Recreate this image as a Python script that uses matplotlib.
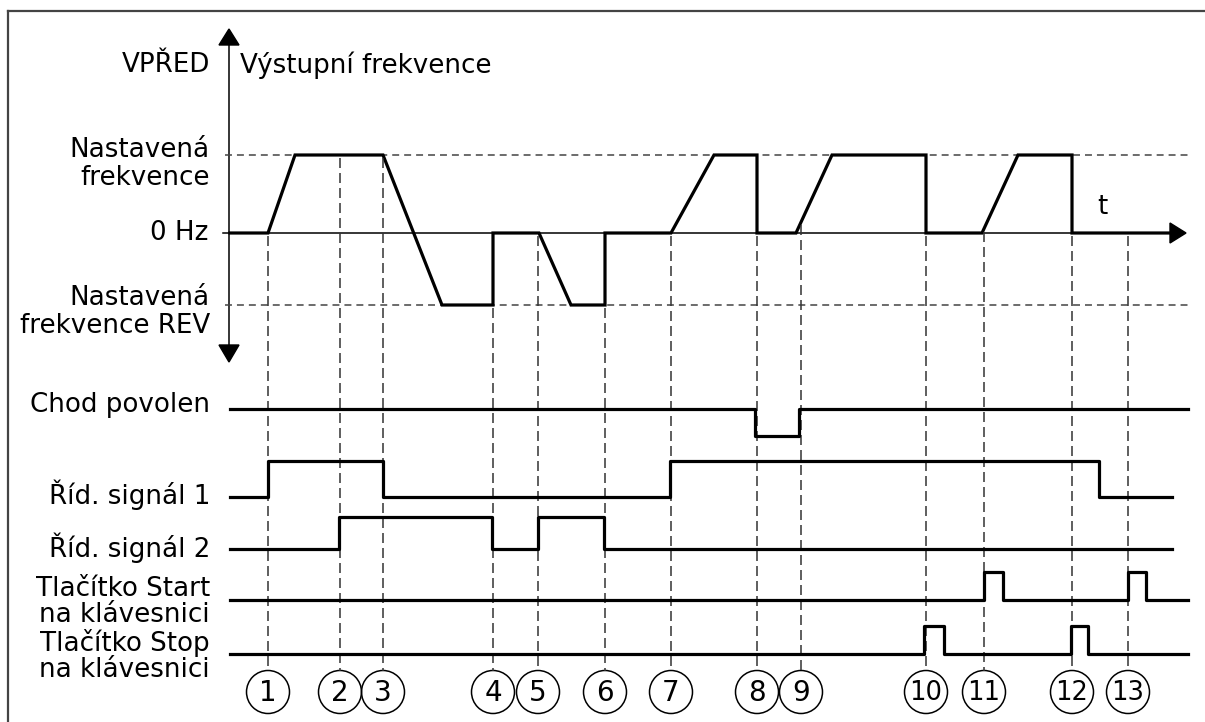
import matplotlib.pyplot as plt
import numpy as np
from matplotlib.patches import Circle, Polygon

plt.rcParams['font.family'] = 'DejaVu Sans'
plt.rcParams['lines.scale_dashes'] = False

# numbered event instants (time axis in drawing units)
events = [268, 340, 383, 493, 538, 605, 671, 757, 801, 926, 984, 1072, 1128]

# output frequency: breakpoints, +1 = set frequency, -1 = set frequency REV
freq_t = [230, 268, 295, 383, 442, 493, 493, 539, 571, 605, 605, 671, 714,
          757, 757, 796, 832, 926, 926, 982, 1018, 1072, 1072, 1170]
freq_lvl = [0, 0, 1, 1, -1, -1, 0, 0, -1, -1, 0, 0, 1,
            1, 0, 0, 1, 1, 0, 0, 1, 1, 0, 0]

# digital signals: initial state, switching instants, end of trace
run_enable = (1, [755, 799], 1188)
ctrl_1 = (0, [268, 383, 670, 1099], 1172)
ctrl_2 = (0, [339, 492, 538, 604], 1172)
start_key = (0, [984, 1003, 1128, 1146], 1188)
stop_key = (0, [924, 944, 1071, 1088], 1188)

signal_names = ['Chod povolen', 'Říd. signál 1', 'Říd. signál 2',
                'Tlačítko Start\nna klávesnici', 'Tlačítko Stop\nna klávesnici']

fig = plt.figure(figsize=(12.05, 7.22), dpi=100)
ax = fig.add_axes([0, 0, 1, 1])
ax.set_xlim(0, 1205)
ax.set_ylim(722, 0)
ax.axis('off')

# frame (only top and left edges are visible)
ax.plot([8, 1205], [11, 11], color='#444444', lw=1.6)
ax.plot([8, 8], [11, 722], color='#444444', lw=1.6)

# frequency panel geometry
x0 = 229
y_zero, amp = 233, 78
y_set, y_rev = y_zero - amp, y_zero + 72


def freq_y(lvl):
    lvl = np.asarray(lvl, dtype=float)
    return np.where(lvl >= 0, y_zero - lvl * amp, y_zero - lvl * (y_rev - y_zero))


# vertical axis with arrows
ax.plot([x0, x0], [40, 350], color='black', lw=1.1)
ax.add_patch(Polygon([[x0, 29], [x0 - 10, 45], [x0 + 10, 45]], color='black'))
ax.add_patch(Polygon([[x0, 362], [x0 - 10, 345], [x0 + 10, 345]], color='black'))

# time axis
ax.plot([223, 1172], [y_zero, y_zero], color='black', lw=1.1)
ax.add_patch(Polygon([[1186, y_zero], [1170, y_zero - 10], [1170, y_zero + 10]],
                     color='black'))

# reference levels
for yy in (y_set, y_rev):
    ax.plot([225, 1188], [yy, yy], color='#444444', lw=1.1, ls=(0, (5, 3.6)))

# output frequency trace
ax.plot(freq_t, freq_y(freq_lvl), color='black', lw=2.3, solid_joinstyle='miter')

# event guides and numbered circles
circ_y, circ_r = 692, 21.5
ft = np.array(freq_t)
fl = np.array(freq_lvl)
for i, e in enumerate(events):
    at = fl[ft == e]
    lvl = at.min() if at.size else np.interp(e, ft, fl)
    ax.plot([e, e], [float(freq_y(lvl)) + 3, circ_y - circ_r],
            color='#333333', lw=1.1, ls=(0, (7.2, 3.6)))
    ax.add_patch(Circle((e, circ_y), circ_r, fill=False, ec='black', lw=1.1))
    ax.text(e, circ_y + 1, str(i + 1), ha='center', va='center',
            fontsize=20 if i < 9 else 18.5)

# digital signal rows: (low y, high y)
rows = [(436, 409), (497, 461), (549, 517), (600, 572), (654, 626)]
for (state0, edges, t_end), (y_lo, y_hi) in zip(
        [run_enable, ctrl_1, ctrl_2, start_key, stop_key], rows):
    states = [state0]
    for _ in edges:
        states.append(1 - states[-1])
    xs = [230] + edges + [t_end]
    ys = [y_hi if s else y_lo for s in states] + [y_hi if states[-1] else y_lo]
    ax.plot(xs, ys, drawstyle='steps-post', color='black', lw=2.3)

# labels
fs = 18.8
ls = 1.08
ax.text(210, 65, 'VPŘED', ha='right', va='center', fontsize=fs)
ax.text(240, 65, 'Výstupní frekvence', ha='left', va='center', fontsize=fs)
ax.text(210, 164, 'Nastavená\nfrekvence', ha='right', va='center',
        fontsize=fs, linespacing=ls)
ax.text(208, y_zero, '0 Hz', ha='right', va='center', fontsize=fs)
ax.text(210, 312, 'Nastavená\nfrekvence REV', ha='right', va='center',
        fontsize=fs, linespacing=ls)
ax.text(1097, 207, 't', ha='left', va='center', fontsize=fs)

label_y = [405, 495, 548, 602, 656]
for name, yy in zip(signal_names, label_y):
    ax.text(210, yy, name, ha='right', va='center', fontsize=fs, linespacing=1.0)

fig.savefig('out.png', dpi=100)
